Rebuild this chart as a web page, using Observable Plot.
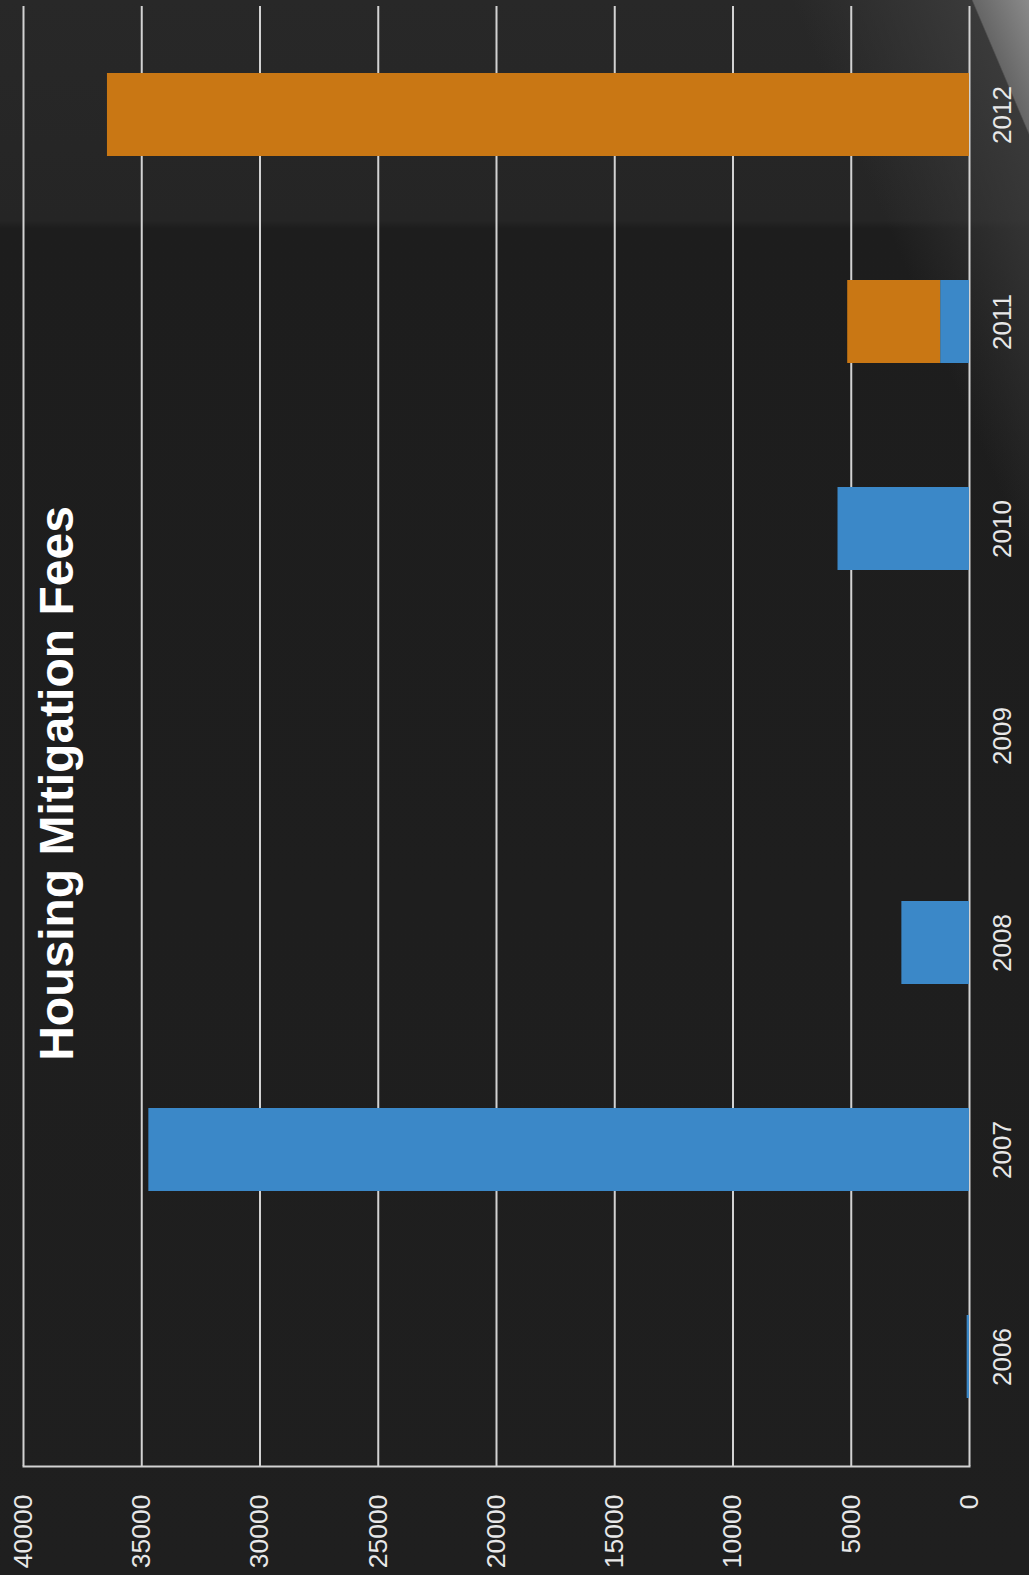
<!DOCTYPE html>
<html>
<head>
<meta charset="utf-8">
<script src="https://cdn.jsdelivr.net/npm/d3@7"></script>
<script src="https://cdn.jsdelivr.net/npm/@observablehq/plot@0.6"></script>
<style>
  html, body { margin: 0; padding: 0; }
  body {
    width: 1029px; height: 1575px; overflow: hidden;
    background:
      linear-gradient(247deg, #8a8a8a 0%, #666666 3.3%, #3a3a3a 3.4%, rgba(0,0,0,0) 14%),
      linear-gradient(180deg, #282828 0%, #252525 14%, #1d1d1d 14.5%, #1f1f1f 100%);
  }
  #chart { position: absolute; left: 0; top: 0; }
</style>
</head>
<body>
<div id="chart"></div>
<script>
const title = "Housing Mitigation Fees";
const years = ["2006", "2007", "2008", "2009", "2010", "2011", "2012"];
const seriesNames = ["Series 1", "Series 2"];
const series1Values = [100, 34700, 2860, 0, 5560, 1220, 0];
const series2Values = [0, 0, 0, 0, 0, 3930, 36450];
const valueTicks = [0, 5000, 10000, 15000, 20000, 25000, 30000, 35000, 40000];
const seriesColors = ["#3b88c8", "#c97714"];

const data = years.flatMap((year, i) => [
  {year, series: seriesNames[0], value: series1Values[i]},
  {year, series: seriesNames[1], value: series2Values[i]}
]);

const chart = Plot.plot({
  width: 1029,
  height: 1575,
  marginLeft: 23,
  marginRight: 60,
  marginTop: 6,
  marginBottom: 109,
  style: {background: "transparent", color: "#e8e8e8", fontFamily: "'Liberation Sans', Arial, sans-serif"},
  x: {domain: [40000, 0], ticks: valueTicks, label: null},
  y: {domain: years.slice().reverse(), paddingInner: 0.6, paddingOuter: 0.3, insetTop: 2, insetBottom: 4, label: null},
  color: {domain: seriesNames, range: seriesColors},
  marks: [
    Plot.gridX(valueTicks, {stroke: "#d2d2d2", strokeOpacity: 1, strokeWidth: 2}),
    Plot.frame({anchor: "bottom", stroke: "#d2d2d2", strokeWidth: 2}),
    Plot.barX(data, {x: "value", y: "year", fill: "series"}),
    Plot.axisX(valueTicks, {anchor: "bottom", tickSize: 0, tickRotate: -90, tickPadding: 28, fontSize: 26.5,
      textAnchor: "end", lineAnchor: "middle", tickFormat: d => String(d), fill: "#e8e8e8"}),
    Plot.axisY({anchor: "right", tickSize: 0, tickRotate: -90, tickPadding: 23, fontSize: 26,
      textAnchor: "middle", lineAnchor: "top", fill: "#e8e8e8"}),
    Plot.text([title], {frameAnchor: "left", rotate: -90, fontSize: 48, fontWeight: "bold",
      textAnchor: "middle", fill: "#ffffff", dx: 34, dy: 47})
  ]
});
document.getElementById("chart").appendChild(chart);
</script>
</body>
</html>
